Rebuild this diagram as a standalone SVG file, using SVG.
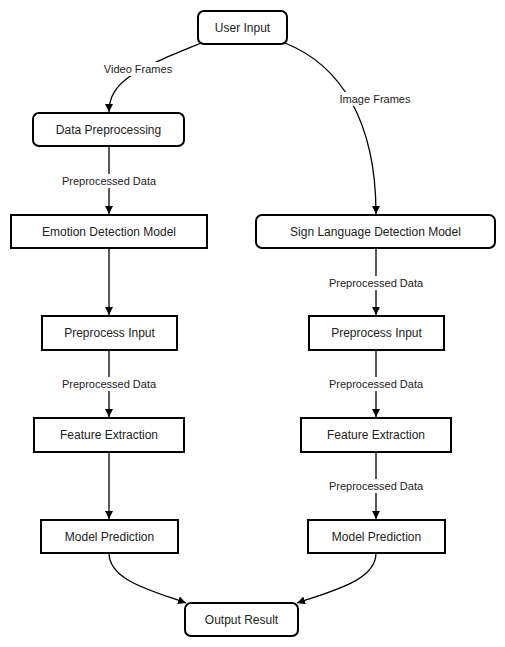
<svg xmlns="http://www.w3.org/2000/svg" width="505" height="647" viewBox="0 0 505 647">
<style>
.node rect{fill:#fff;stroke:#000;stroke-width:2}
.nt{font-family:"Liberation Sans",Arial,sans-serif;font-size:12px;fill:#222;text-anchor:middle;dominant-baseline:central}
.edge{fill:none;stroke:#000;stroke-width:1.3}
.lbg{fill:#fff}
.lt{font-family:"Liberation Sans",Arial,sans-serif;font-size:11px;fill:#222;text-anchor:middle;dominant-baseline:central}
</style>
<defs>
<marker id="arr" viewBox="0 0 10 10" refX="10" refY="5" markerWidth="8" markerHeight="8" markerUnits="userSpaceOnUse" orient="auto">
<path d="M0,0 L10,5 L0,10 z" fill="#000"/>
</marker>
</defs>
<rect width="505" height="647" fill="#fff"/>
<g id="connectors">
<path class="edge" d="M201,43 C140,68 109,80 109,112" marker-end="url(#arr)"/>
<path class="edge" d="M285,43 C340,65 376,120 376,214" marker-end="url(#arr)"/>
<path class="edge" d="M109,146 L109,214" marker-end="url(#arr)"/>
<path class="edge" d="M109,248 L109,315" marker-end="url(#arr)"/>
<path class="edge" d="M376,248 L376,315" marker-end="url(#arr)"/>
<path class="edge" d="M109,350 L109,417" marker-end="url(#arr)"/>
<path class="edge" d="M376,350 L376,417" marker-end="url(#arr)"/>
<path class="edge" d="M109,452 L109,519" marker-end="url(#arr)"/>
<path class="edge" d="M376,452 L376,519" marker-end="url(#arr)"/>
<path class="edge" d="M109,553 C109,580 150,590 186,603" marker-end="url(#arr)"/>
<path class="edge" d="M376,553 C376,580 335,590 297,603" marker-end="url(#arr)"/>
<rect class="lbg" x="103" y="62" width="70" height="14"/>
<text class="lt" x="138" y="69">Video Frames</text>
<rect class="lbg" x="340" y="92" width="70" height="14"/>
<text class="lt" x="375" y="99">Image Frames</text>
<rect class="lbg" x="61" y="174" width="96" height="14"/>
<text class="lt" x="109" y="181">Preprocessed Data</text>
<rect class="lbg" x="328" y="276" width="96" height="14"/>
<text class="lt" x="376" y="283">Preprocessed Data</text>
<rect class="lbg" x="61" y="377" width="96" height="14"/>
<text class="lt" x="109" y="384">Preprocessed Data</text>
<rect class="lbg" x="328" y="377" width="96" height="14"/>
<text class="lt" x="376" y="384">Preprocessed Data</text>
<rect class="lbg" x="328" y="479" width="96" height="14"/>
<text class="lt" x="376" y="486">Preprocessed Data</text>
</g>
<g id="user-input" class="node"><rect x="198" y="11" width="89" height="33" rx="6"/><text class="nt" x="242.5" y="27.5">User Input</text></g>
<g id="data-preprocessing" class="node"><rect x="33" y="113" width="151" height="33" rx="6"/><text class="nt" x="108.5" y="129.5">Data Preprocessing</text></g>
<g id="emotion-detection" class="node"><rect x="11" y="215" width="196" height="33"/><text class="nt" x="109" y="231.5">Emotion Detection Model</text></g>
<g id="sign-language-detection" class="node"><rect x="256" y="215" width="239" height="33" rx="6"/><text class="nt" x="375.5" y="231.5">Sign Language Detection Model</text></g>
<g id="preprocess-input-left" class="node"><rect x="42" y="316" width="135" height="34"/><text class="nt" x="109.5" y="333">Preprocess Input</text></g>
<g id="preprocess-input-right" class="node"><rect x="309" y="316" width="135" height="34"/><text class="nt" x="376.5" y="333">Preprocess Input</text></g>
<g id="feature-extraction-left" class="node"><rect x="34" y="418" width="150" height="34"/><text class="nt" x="109" y="435">Feature Extraction</text></g>
<g id="feature-extraction-right" class="node"><rect x="301" y="418" width="150" height="34"/><text class="nt" x="376" y="435">Feature Extraction</text></g>
<g id="model-prediction-left" class="node"><rect x="41" y="520" width="137" height="33"/><text class="nt" x="109.5" y="536.5">Model Prediction</text></g>
<g id="model-prediction-right" class="node"><rect x="308" y="520" width="137" height="33"/><text class="nt" x="376.5" y="536.5">Model Prediction</text></g>
<g id="output-result" class="node"><rect x="185" y="603" width="113" height="33" rx="6"/><text class="nt" x="241.5" y="619.5">Output Result</text></g>
</svg>
